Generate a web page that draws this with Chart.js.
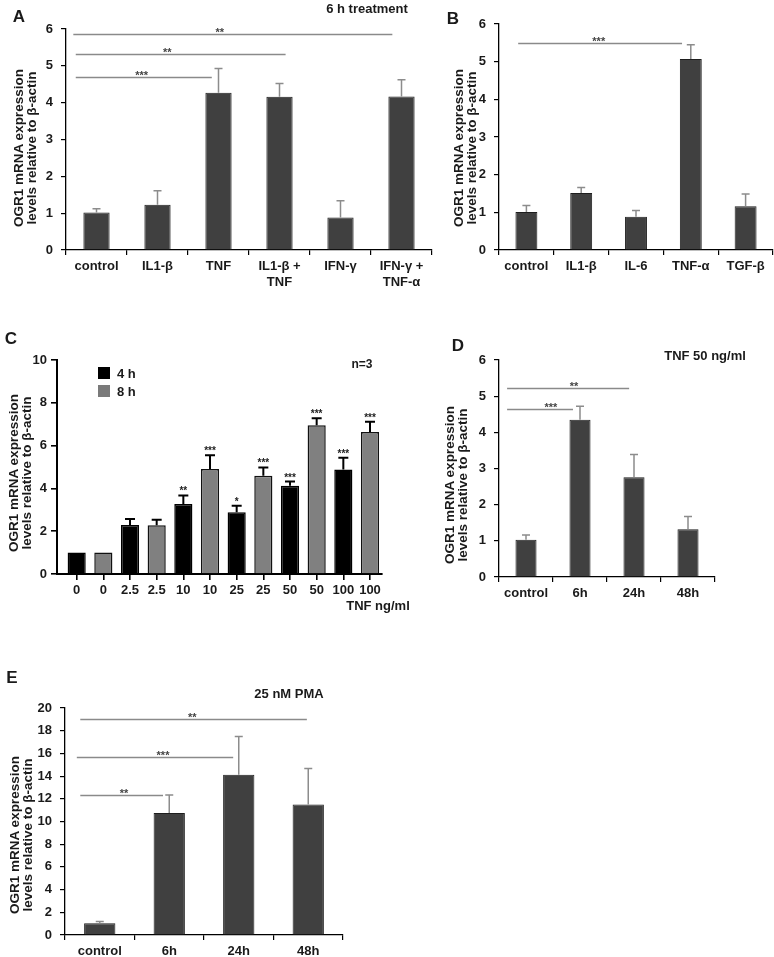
<!DOCTYPE html>
<html>
<head>
<meta charset="utf-8">
<script src="https://cdn.jsdelivr.net/npm/chart.js@4.4.1/dist/chart.umd.min.js"></script>
<style>
  html, body { margin: 0; padding: 0; background: #fff; }
  #fig { position: relative; width: 774px; height: 957px; overflow: hidden;
         font-family: 'Liberation Sans', Arial, sans-serif; font-weight: bold; color: #1a1a1a; }
  #fig canvas { position: absolute; }
  .t { position: absolute; white-space: nowrap; transform: translate(-50%, -50%); line-height: 1; font-size: 13px; }
  .letter { font-size: 17px; }
  .yt { position: absolute; white-space: nowrap; text-align: center; font-size: 13.5px; line-height: 13px;
        transform: translate(-50%, -50%) rotate(-90deg); }
  .sw { position: absolute; width: 12px; height: 12px; }
</style>
</head>
<body>
<div id="fig">
  <canvas id="cA" width="440" height="300" style="left:0;top:0"></canvas>
  <canvas id="cB" width="334" height="300" style="left:440px;top:0"></canvas>
  <canvas id="cC" width="440" height="300" style="left:0;top:320px"></canvas>
  <canvas id="cD" width="334" height="300" style="left:440px;top:320px"></canvas>
  <canvas id="cE" width="440" height="317" style="left:0;top:640px"></canvas>

  <div class="t letter" style="left:19px;top:16px">A</div>
  <div class="t letter" style="left:453px;top:18px">B</div>
  <div class="t letter" style="left:11px;top:338px">C</div>
  <div class="t letter" style="left:458px;top:345px">D</div>
  <div class="t letter" style="left:12px;top:677px">E</div>

  <div class="t" style="left:367px;top:8px">6 h treatment</div>
  <div class="t" style="left:705px;top:355px">TNF 50 ng/ml</div>
  <div class="t" style="left:289px;top:693px">25 nM PMA</div>
  <div class="t" style="left:362px;top:364px;font-size:12px">n=3</div>
  <div class="t" style="left:378px;top:605px">TNF ng/ml</div>

  <div class="yt" style="left:25px;top:148px">OGR1 mRNA expression<br>levels relative to β-actin</div>
  <div class="yt" style="left:465px;top:148px">OGR1 mRNA expression<br>levels relative to β-actin</div>
  <div class="yt" style="left:20px;top:473px">OGR1 mRNA expression<br>levels relative to β-actin</div>
  <div class="yt" style="left:456px;top:485px">OGR1 mRNA expression<br>levels relative to β-actin</div>
  <div class="yt" style="left:21px;top:835px">OGR1 mRNA expression<br>levels relative to β-actin</div>

  <div id="legC"></div>
</div>

<script>
// ---- data ----
const labelsA = ['control', 'IL1-β', 'TNF', ['IL1-β +', 'TNF'], 'IFN-γ', ['IFN-γ +', 'TNF-α']];
const meanA = [1.02, 1.23, 4.27, 4.16, 0.88, 4.17];
const errA = [0.10, 0.38, 0.66, 0.36, 0.46, 0.45];
const sigA = [
  { from: -0.38, to: 4.85, y: 5.86, label: '**', at: 2.02 },
  { from: -0.34, to: 3.10, y: 5.32, label: '**', at: 1.16 },
  { from: -0.34, to: 1.89, y: 4.70, label: '***', at: 0.74 }
];

const labelsB = ['control', 'IL1-β', 'IL-6', 'TNF-α', 'TGF-β'];
const meanB = [1.01, 1.51, 0.88, 5.07, 1.16];
const errB = [0.17, 0.15, 0.17, 0.38, 0.33];
const sigB = [{ from: -0.15, to: 2.84, y: 5.50, label: '***', at: 1.32 }];

const dosesC = ['0', '2.5', '10', '25', '50', '100'];
const seriesC = ['4 h', '8 h'];
const mean4h = [1.0, 2.29, 3.27, 2.89, 4.12, 4.88];
const err4h = [0, 0.28, 0.40, 0.30, 0.20, 0.55];
const stars4h = ['', '', '**', '*', '***', '***'];
const mean8h = [1.0, 2.28, 4.91, 4.59, 6.95, 6.64];
const err8h = [0, 0.25, 0.64, 0.39, 0.33, 0.48];
const stars8h = ['', '', '***', '***', '***', '***'];

const labelsD = ['control', '6h', '24h', '48h'];
const meanD = [1.03, 4.35, 2.76, 1.32];
const errD = [0.13, 0.37, 0.63, 0.35];
const sigD = [
  { from: -0.35, to: 1.91, y: 5.23, label: '**', at: 0.89 },
  { from: -0.35, to: 0.87, y: 4.64, label: '***', at: 0.46 }
];

const labelsE = ['control', '6h', '24h', '48h'];
const meanE = [1.03, 10.75, 14.11, 11.49];
const errE = [0.15, 1.59, 3.39, 3.18];
const sigE = [
  { from: -0.28, to: 2.98, y: 19.03, label: '**', at: 1.33 },
  { from: -0.33, to: 1.92, y: 15.68, label: '***', at: 0.91 },
  { from: -0.28, to: 0.91, y: 12.33, label: '**', at: 0.35 }
];

// ---- helpers ----
const FONT = "'Liberation Sans', Arial, sans-serif";
Chart.defaults.font.family = FONT;

// error bars, stars and comparison lines, all placed through the chart scales
const extras = {
  id: 'extras',
  afterDatasetsDraw(chart, args, o) {
    const ctx = chart.ctx, xs = chart.scales.x, ys = chart.scales.y;
    ctx.save();
    (o.err || []).forEach((errs, di) => {
      const meta = chart.getDatasetMeta(di);
      meta.data.forEach((bar, i) => {
        const raw = chart.data.datasets[di].data[i];
        const val = typeof raw === 'object' ? raw.y : raw;
        const top = ys.getPixelForValue(val + (errs[i] || 0));
        if (errs[i]) {
          ctx.strokeStyle = o.errColor;
          ctx.lineWidth = o.errWidth;
          ctx.beginPath();
          ctx.moveTo(bar.x, bar.y);
          ctx.lineTo(bar.x, top);
          ctx.moveTo(bar.x - o.cap / 2, top);
          ctx.lineTo(bar.x + o.cap / 2, top);
          ctx.stroke();
        }
        const s = o.stars && o.stars[di][i];
        if (s) {
          ctx.fillStyle = '#222';
          ctx.font = 'bold 10px ' + FONT;
          ctx.textAlign = 'center';
          ctx.textBaseline = 'alphabetic';
          ctx.fillText(s, bar.x, top - 1);
        }
      });
    });
    (o.sig || []).forEach(s => {
      const py = Math.round(ys.getPixelForValue(s.y)) + 0.5;
      ctx.strokeStyle = '#8a8a8a';
      ctx.lineWidth = 1.3;
      ctx.beginPath();
      ctx.moveTo(xs.getPixelForValue(s.from), py);
      ctx.lineTo(xs.getPixelForValue(s.to), py);
      ctx.stroke();
      ctx.fillStyle = '#444';
      ctx.font = 'bold 11px ' + FONT;
      ctx.textAlign = 'center';
      ctx.textBaseline = 'alphabetic';
      ctx.fillText(s.label, xs.getPixelForValue(s.at), py + 1);
    });
    ctx.restore();
  }
};

const tickFont = { family: FONT, size: 13, weight: 'bold', lineHeight: 1.2 };

function xCat(labels) {
  return {
    type: 'category', labels, offset: true,
    grid: { offset: true, drawOnChartArea: false, tickLength: 5, color: '#000', lineWidth: 1.2 },
    border: { display: true, color: '#000', width: 1.3 },
    ticks: { color: '#1a1a1a', font: tickFont, padding: 4, maxRotation: 0, autoSkip: false }
  };
}

function yLin(max, step, pad) {
  return {
    min: 0, max,
    grid: { drawOnChartArea: false, tickLength: 5, color: '#000', lineWidth: 1.2 },
    border: { display: true, color: '#000', width: 1.3 },
    ticks: { stepSize: step, color: '#1a1a1a', font: tickFont, padding: pad }
  };
}

function draw(id, geo, data, x, y, extra) {
  const cv = document.getElementById(id);
  x.afterFit = s => { s.height = cv.height - geo.bottom; };
  y.afterFit = s => { s.width = geo.left; };
  return new Chart(cv, {
    type: 'bar',
    data,
    options: {
      responsive: false,
      animation: false,
      layout: { padding: { left: 0, top: geo.top, right: cv.width - geo.right, bottom: 0 } },
      plugins: { legend: { display: false }, tooltip: { enabled: false }, extras: extra },
      scales: { x, y }
    },
    plugins: [extras]
  });
}

function greyBars(values, pct) {
  return {
    datasets: [{
      data: values, backgroundColor: '#404040', borderColor: '#1e1e1e', borderWidth: 1,
      barPercentage: pct, categoryPercentage: 1
    }]
  };
}

const excelErr = { errColor: '#8c8c8c', errWidth: 1.5, cap: 8 };

// ---- A ----
draw('cA', { left: 66, top: 29, right: 432, bottom: 250 },
  greyBars(meanA, 0.43), xCat(labelsA), yLin(6, 1, 8),
  Object.assign({ err: [errA], sig: sigA }, excelErr));

// ---- B ----
draw('cB', { left: 59, top: 24, right: 333, bottom: 250 },
  greyBars(meanB, 0.40), xCat(labelsB), yLin(6, 1, 8),
  Object.assign({ err: [errB], sig: sigB }, excelErr));

// ---- C ----
const catC = [];
dosesC.forEach(d => { catC.push(d, d); });
const xC = {
  type: 'linear', min: -0.738, max: 11.45, offset: false,
  afterBuildTicks: s => { s.ticks = catC.map((_, i) => ({ value: i })); },
  grid: { offset: false, drawOnChartArea: false, tickLength: 6, color: '#000', lineWidth: 1.6 },
  border: { display: true, color: '#000', width: 2 },
  ticks: { color: '#1a1a1a', font: tickFont, padding: 3, maxRotation: 0, autoSkip: false,
           callback: v => catC[v] }
};
const yC = yLin(10, 2, 4);
yC.grid.tickLength = 6; yC.grid.lineWidth = 1.6; yC.border.width = 2;
draw('cC', { left: 57, top: 40, right: 382, bottom: 254 }, {
  datasets: [
    { label: seriesC[0], data: mean4h.map((v, i) => ({ x: 2 * i, y: v })), backgroundColor: '#000',
      borderColor: '#000', borderWidth: 1.5, grouped: false, barPercentage: 0.68, categoryPercentage: 1 },
    { label: seriesC[1], data: mean8h.map((v, i) => ({ x: 2 * i + 1, y: v })), backgroundColor: '#808080',
      borderColor: '#111', borderWidth: 1.5, grouped: false, barPercentage: 0.68, categoryPercentage: 1 }
  ]
}, xC, yC, { err: [err4h, err8h], stars: [stars4h, stars8h], errColor: '#000', errWidth: 2, cap: 10 });

// legend for C
const legC = document.getElementById('legC');
[['#000', 367], ['#7a7a7a', 385]].forEach(([c, top], i) => {
  legC.insertAdjacentHTML('beforeend',
    `<div class="sw" style="left:98px;top:${top}px;background:${c}"></div>` +
    `<div class="t" style="left:117px;top:${top + 6}px;transform:translate(0,-50%)">${seriesC[i]}</div>`);
});

// ---- D ----
draw('cD', { left: 59, top: 40, right: 275, bottom: 257 },
  greyBars(meanD, 0.39), xCat(labelsD), yLin(6, 1, 8),
  Object.assign({ err: [errD], sig: sigD }, excelErr));

// ---- E ----
draw('cE', { left: 65, top: 68, right: 343, bottom: 295 },
  greyBars(meanE, 0.45), xCat(labelsE), yLin(20, 2, 8),
  Object.assign({ err: [errE], sig: sigE }, excelErr));
</script>
</body>
</html>
